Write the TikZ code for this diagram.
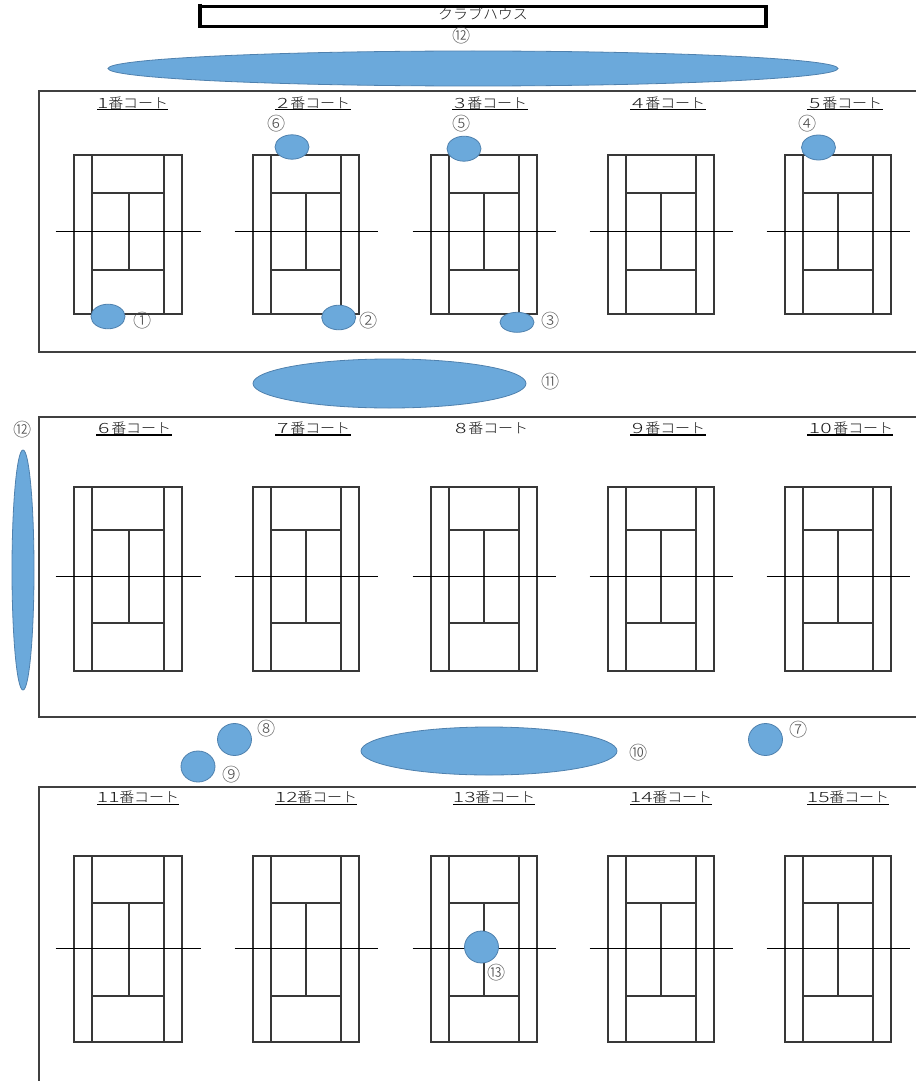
\documentclass[tikz,border=0pt]{standalone}
\usepackage{fontspec}
\newfontfamily\jpfont[FakeStretch=1.06]{Noto Sans CJK JP Light}
\newfontfamily\digfont[FakeStretch=1.5]{Noto Sans CJK JP Light}
\newfontfamily\numfont{Noto Sans CJK JP Light}
\newcommand{\dg}[2]{\makebox[#1\dimexpr0.75pt\relax][c]{\digfont #2}}
\definecolor{blobfill}{HTML}{6BA9DB}
\definecolor{blobedge}{HTML}{4F81AE}
\tikzset{
  x=0.75pt,y=-0.75pt,
  courtline/.style={line width=0.95pt,draw=black!78},
  netline/.style={line width=0.8pt,draw=black},
  framebox/.style={line width=1pt,draw=black!75},
  blob/.style={fill=blobfill,draw=blobedge,line width=0.6pt},
  courtlabel/.style={anchor=west,inner sep=0pt,text=black!90,font=\jpfont\fontsize{10.6pt}{12pt}\selectfont},
  ulbar/.style={line width=1pt,draw=black},
  marklabel/.style={inner sep=0pt,text=black!70,font=\numfont\fontsize{13.6pt}{14pt}\selectfont},
}
\newcommand{\court}[7]{% left, right, centre, top, svc1, net, svc2 ; bottom in \courtbottom
  \draw[courtline] (#1,#4) rectangle (#2,\courtbottom);
  \draw[courtline] ({#1+18},#4) -- ({#1+18},\courtbottom);
  \draw[courtline] ({#2-18},#4) -- ({#2-18},\courtbottom);
  \draw[courtline] ({#1+18},#5) -- ({#2-18},#5);
  \draw[courtline] ({#1+18},#7) -- ({#2-18},#7);
  \draw[courtline] (#3,#5) -- (#3,#7);
  \draw[netline] ({#1-18.5},#6) -- ({#2+18.5},#6);
}
\begin{document}
\begin{tikzpicture}
\useasboundingbox (0,0) rectangle (916,1081);
\fill[white] (0,0) rectangle (916,1081);
% frames
\draw[framebox] (916,91) -- (39,91) -- (39,352) -- (916,352);
\draw[framebox] (916,417) -- (39,417) -- (39,717) -- (916,717);
\draw[framebox] (916,787) -- (39,787) -- (39,1081);
% courts
\def\courtbottom{314}
\foreach \l/\r/\c in {74/182/129,253/359/306,431/537/484,608/714/661,785/891/838} {\court{\l}{\r}{\c}{155}{193}{231.5}{270}}
\def\courtbottom{671}
\foreach \l/\r/\c in {74/182/129,253/359/306,431/537/484,608/714/661,785/891/838} {\court{\l}{\r}{\c}{487}{530}{576.5}{623}}
\def\courtbottom{1042}
\foreach \l/\r/\c in {74/182/129,253/359/306,431/537/484,608/714/661,785/891/838} {\court{\l}{\r}{\c}{856}{903}{948.5}{996}}
% club house
\node[inner sep=0pt,text=black!90,font=\jpfont\fontsize{10.6pt}{12pt}\selectfont] (club) at (483,13.5) {クラブハウス};
\draw[line width=2.5pt,draw=black] (200,6.3) rectangle (766,26.3);
\draw[line width=2.5pt,draw=black] (200,3.8) -- (200,6.3);
% court labels
\foreach \n/\x/\w/\d/\e in {a/97/11/1/168,b/275/15/2/351,c/452/15/3/528,d/630/15/4/706,e/807/15/5/883}
  {\node[courtlabel] (l\n) at (\x,103) {\dg{\w}{\d}番コート};
   \draw[ulbar] (\x,109.7) -- (\e,109.7);}
\foreach \n/\x/\w/\d/\e in {f/96/15/6/172,g/275/15/7/351,i/630/15/9/706,j/807/26/10/893}
  {\node[courtlabel] (l\n) at (\x,428) {\dg{\w}{\d}番コート};
   \draw[ulbar] (\x,435) -- (\e,435);}
\node[courtlabel] (lh) at (453,428) {\dg{15}{8}番コート};
\foreach \n/\x/\w/\d/\e in {k/97/22/11/179,l/275/22/12/357,m/453/22/13/535,n/630/22/14/712,o/807/22/15/889}
  {\node[courtlabel] (l\n) at (\x,797) {\dg{\w}{\d}番コート};
   \draw[ulbar] (\x,804.5) -- (\e,804.5);}
% players and zones
\path[blob] (473,68.5) ellipse [x radius=365,y radius=17.5];
\path[blob] (389.5,383.5) ellipse [x radius=136.5,y radius=24.5];
\path[blob] (23,570) ellipse [x radius=11,y radius=120];
\path[blob] (489,751) ellipse [x radius=128,y radius=24];
\path[blob] (108,316.5) ellipse [x radius=17,y radius=12.3];
\path[blob] (338.7,317.5) ellipse [x radius=17,y radius=12.3];
\path[blob] (517,322.3) ellipse [x radius=17,y radius=10];
\path[blob] (292,147) ellipse [x radius=17,y radius=12.2];
\path[blob] (464,148.7) ellipse [x radius=17,y radius=12.5];
\path[blob] (818.5,147.5) ellipse [x radius=17,y radius=12.5];
\path[blob] (234.5,739.5) ellipse [x radius=17,y radius=16];
\path[blob] (198,766.5) ellipse [x radius=17,y radius=15.5];
\path[blob] (765.5,739.5) ellipse [x radius=17,y radius=16];
\path[blob] (481.5,947) ellipse [x radius=17,y radius=16];
% numbers
\foreach \n/\x/\y/\t in {m1/142.5/321/①,m2/368.8/321/②,m3/550.5/321/③,m4/807.8/124/④,m5/461.5/124/⑤,m6/276.2/124/⑥,m7/798.5/729.3/⑦,m8/266.5/729/⑧,m9/231.2/774.6/⑨,m10/639/752.3/⑩,m11/550.2/382/⑪,m12/461.5/36/⑫,m12b/22.8/429.3/⑫,m13/497/972.3/⑬}
  {\node[marklabel] (\n) at (\x,\y) {\t};}
\end{tikzpicture}
\end{document}
